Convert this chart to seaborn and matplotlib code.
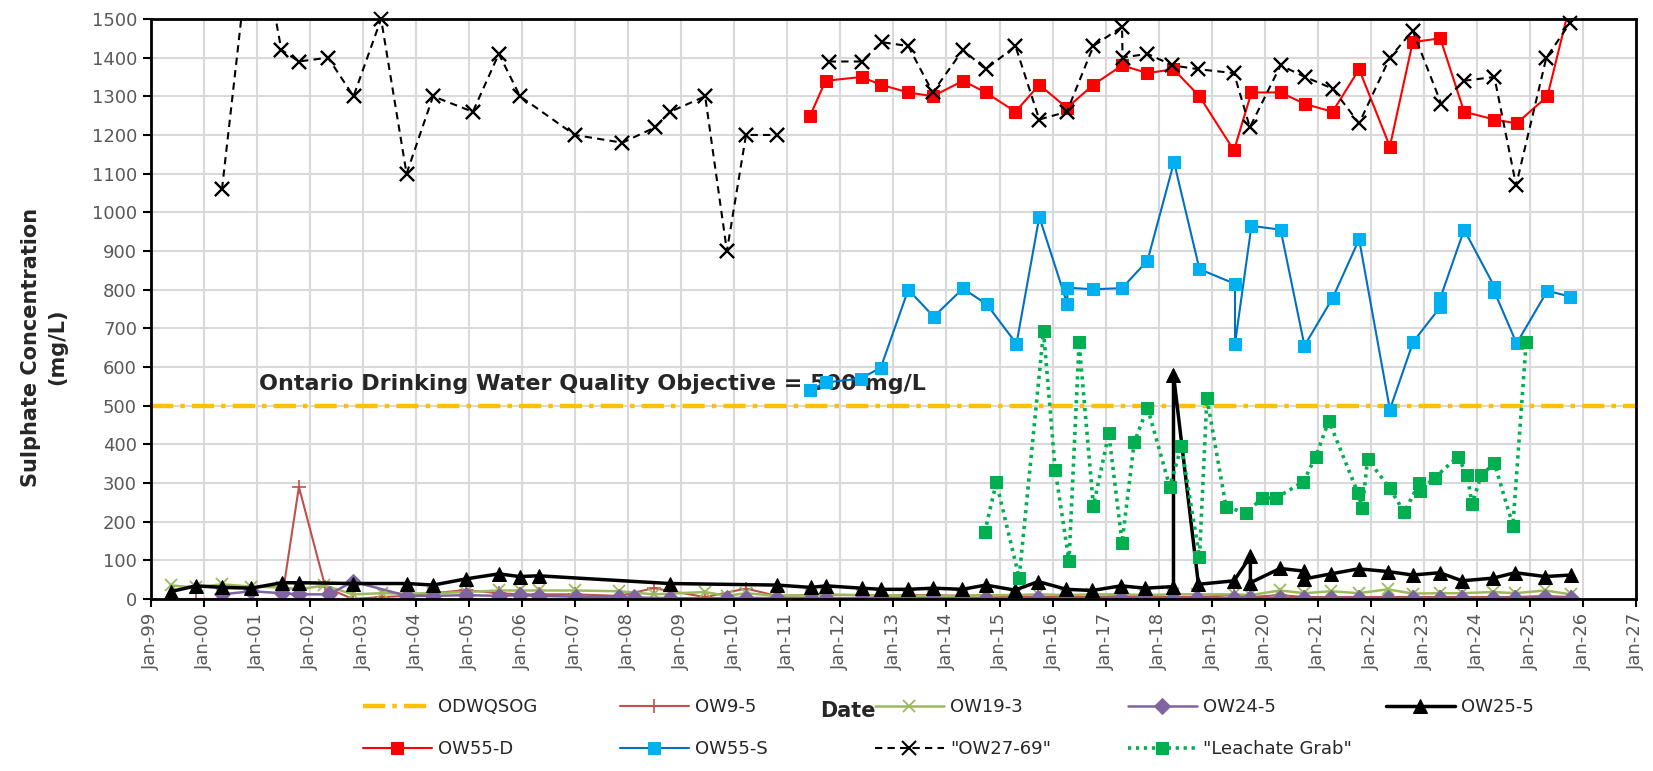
import numpy as np
import pandas as pd
import matplotlib
matplotlib.use("Agg")
import matplotlib.pyplot as plt
import seaborn as sns

# sampling dates as decimal years
years = list(range(1999, 2028))
tick_labels = ["Jan-%02d" % (y % 100) for y in years]

odwqs_x = [1999, 2027]
odwqs_y = [500, 500]

ow9_x = [1999.37, 1999.85, 2000.34, 2000.89, 2001.47, 2001.79, 2002.29, 2002.81, 2003.35, 2003.83,
         2004.32, 2004.94, 2005.56, 2005.95, 2006.31, 2006.99, 2007.83, 2008.48, 2009.45, 2010.22,
         2010.80, 2011.45, 2011.73, 2012.40, 2012.77, 2013.28, 2013.75, 2014.30, 2014.74, 2015.29,
         2015.73, 2016.26, 2016.75, 2017.29, 2017.74, 2018.28, 2018.72, 2019.43, 2019.73, 2020.29,
         2020.75, 2021.25, 2021.77, 2022.32, 2022.79, 2023.30, 2023.72, 2024.31, 2024.72, 2025.29,
         2025.77]
ow9_y = [0, 0, 0, 0, 0, 290, 30, 0, 5, 8,
         15, 23, 15, 12, 12, 12, 8, 28, 5, 27,
         8, 10, 10, 10, 8, 10, 10, 8, 10, 6,
         5, 5, 5, 8, 5, 5, 5, 10, 5, 10,
         5, 5, 5, 5, 5, 5, 5, 5, 5, 8,
         5]

ow19_x = [1999.37, 1999.85, 2000.34, 2000.89, 2001.47, 2001.79, 2002.27, 2002.81, 2003.35, 2003.83,
          2004.32, 2004.94, 2005.56, 2005.95, 2006.31, 2006.99, 2007.83, 2008.48, 2009.45, 2009.86,
          2010.22, 2010.80, 2011.45, 2011.73, 2012.40, 2012.77, 2013.28, 2013.75, 2014.30, 2014.74,
          2015.29, 2015.73, 2016.26, 2016.75, 2017.29, 2017.74, 2018.28, 2018.72, 2019.43, 2019.73,
          2020.29, 2020.75, 2021.25, 2021.77, 2022.32, 2022.79, 2023.30, 2023.72, 2024.31, 2024.72,
          2025.29, 2025.77]
ow19_y = [35, 30, 38, 32, 30, 25, 35, 12, 15, 14,
          15, 18, 22, 22, 22, 22, 20, 12, 18, 8,
          15, 8, 10, 12, 10, 10, 8, 8, 8, 10,
          10, 12, 10, 12, 12, 10, 12, 12, 12, 10,
          22, 15, 20, 15, 25, 14, 15, 15, 18, 15,
          22, 12]

ow24_x = [2000.34, 2000.89, 2001.47, 2001.79, 2002.36, 2002.81, 2003.83, 2004.32, 2004.95, 2005.56,
          2005.95, 2006.31, 2007.01, 2007.83, 2008.11, 2008.78, 2009.86, 2010.22, 2010.81, 2011.45,
          2011.73, 2012.40, 2012.77, 2013.28, 2013.75, 2014.30, 2014.74, 2015.29, 2015.73, 2016.26,
          2016.75, 2017.29, 2017.74, 2018.28, 2018.72, 2019.43, 2019.73, 2020.29, 2020.75, 2021.25,
          2021.77, 2022.32, 2022.79, 2023.30, 2023.72, 2024.31, 2024.72, 2025.29, 2025.77]
ow24_y = [12, 20, 15, 12, 12, 45, 8, 8, 10, 8,
          10, 8, 6, 5, 4, 2, 2, 3, 2, 2,
          2, 2, 2, 2, 2, 2, 2, 2, 2, 2,
          2, 3, 2, 2, 2, 2, 2, 2, 2, 3,
          2, 2, 2, 2, 2, 2, 2, 5, 2]

ow25_x = [1999.37, 1999.85, 2000.34, 2000.89, 2001.47, 2001.79, 2002.81, 2003.83, 2004.32, 2004.94,
          2005.56, 2005.95, 2006.31, 2008.78, 2010.80, 2011.44, 2011.73, 2012.40, 2012.77, 2013.28,
          2013.75, 2014.30, 2014.74, 2015.29, 2015.73, 2016.26, 2016.75, 2017.29, 2017.74, 2018.28,
          2018.28, 2018.75, 2019.42, 2019.73, 2019.73, 2020.29, 2020.75, 2020.75, 2021.25, 2021.77,
          2022.32, 2022.79, 2023.30, 2023.72, 2024.31, 2024.72, 2025.29, 2025.77]
ow25_y = [19, 34, 30, 28, 42, 42, 40, 40, 36, 52,
          65, 58, 60, 40, 36, 30, 34, 28, 25, 25,
          28, 25, 36, 23, 45, 25, 22, 34, 28, 32,
          580, 38, 47, 110, 42, 79, 72, 52, 65, 78,
          71, 62, 68, 47, 54, 68, 58, 62]

ow55d_x = [2011.43, 2011.72, 2012.40, 2012.76, 2013.28, 2013.74, 2014.31, 2014.74, 2015.30, 2015.75,
           2016.27, 2016.77, 2017.31, 2017.79, 2018.28, 2018.77, 2019.42, 2019.75, 2020.30, 2020.76,
           2021.28, 2021.78, 2022.36, 2022.79, 2023.31, 2023.76, 2024.33, 2024.75, 2025.33, 2025.76]
ow55d_y = [1250, 1340, 1350, 1330, 1310, 1300, 1340, 1310, 1260, 1330,
           1270, 1330, 1380, 1360, 1370, 1300, 1160, 1310, 1310, 1280,
           1260, 1370, 1170, 1440, 1450, 1260, 1240, 1230, 1300, 1540]

ow55s_x = [2011.43, 2011.72, 2012.38, 2012.76, 2013.28, 2013.76, 2014.31, 2014.76, 2015.32, 2015.75,
           2016.28, 2016.28, 2016.77, 2017.31, 2017.79, 2018.29, 2018.77, 2019.44, 2019.44, 2019.75,
           2020.30, 2020.75, 2021.28, 2021.78, 2022.36, 2022.80, 2023.31, 2023.31, 2023.76, 2024.33,
           2024.33, 2024.75, 2025.33, 2025.76]
ow55s_y = [540, 560, 570, 598, 800, 730, 803, 762, 660, 988,
           762, 805, 801, 804, 875, 1130, 853, 815, 660, 965,
           955, 655, 778, 930, 490, 665, 755, 778, 955, 808,
           795, 661, 797, 782]

# nan marks a sampling round with no result (gap in the line)
ow27_x = [2000.34, 2000.95, 2001.46, 2001.79, 2002.34, 2002.82, 2003.34, 2003.82, 2004.32, 2005.07,
          2005.56, 2005.96, 2006.99, 2007.89, 2008.51, 2008.79, 2009.45, 2009.86, 2010.22, 2010.80,
          2011.45, 2011.78, 2012.40, 2012.78, 2013.28, 2013.74, 2014.31, 2014.74, 2015.30, 2015.75,
          2016.27, 2016.77, 2017.31, 2017.32, 2017.79, 2018.26, 2018.75, 2019.42, 2019.72, 2020.30,
          2020.76, 2021.28, 2021.78, 2022.36, 2022.79, 2023.33, 2023.75, 2024.33, 2024.74, 2025.31,
          2025.76]
ow27_y = [1060, 1800, 1420, 1390, 1400, 1300, 1500, 1100, 1300, 1260,
          1410, 1300, 1200, 1180, 1220, 1260, 1300, 900, 1200, 1200,
          np.nan, 1390, 1390, 1440, 1430, 1310, 1420, 1370, 1430, 1240,
          1260, 1430, 1480, 1400, 1410, 1380, 1370, 1360, 1220, 1380,
          1350, 1320, 1230, 1400, 1470, 1280, 1340, 1350, 1070, 1400,
          1490]

leach_x = [2014.72, 2014.94, 2015.37, 2015.83, 2016.05, 2016.31, 2016.50, 2016.77, 2017.06, 2017.31,
           2017.54, 2017.79, 2018.21, 2018.43, 2018.77, 2018.91, 2019.27, 2019.64, 2019.95, 2020.22,
           2020.73, 2020.96, 2021.21, 2021.76, 2021.84, 2021.94, 2022.36, 2022.63, 2022.91, 2022.92,
           2023.21, 2023.64, 2023.82, 2023.91, 2024.08, 2024.33, 2024.68, 2024.93]
leach_y = [172, 302, 55, 692, 334, 98, 664, 240, 428, 146,
           405, 495, 290, 396, 108, 520, 239, 222, 260, 262,
           303, 368, 461, 273, 235, 362, 286, 224, 299, 280,
           314, 368, 320, 245, 320, 351, 190, 665]

sns.set_theme(style="whitegrid")
plt.rcParams["font.family"] = ["DejaVu Sans"]

fig, ax = plt.subplots(figsize=(16.53, 7.71), dpi=100)
fig.subplots_adjust(left=0.0913, right=0.9897, top=0.9754, bottom=0.2231)

sns.lineplot(x=odwqs_x, y=odwqs_y, ax=ax, color="#FFC000", lw=3.2,
             linestyle=(0, (5, 1.6, 1, 1.6)), label="ODWQSOG", legend=False)
sns.lineplot(x=ow9_x, y=ow9_y, ax=ax, color="#C0504D", lw=1.5, marker="+", markersize=10,
             markeredgecolor="#C0504D", markeredgewidth=1.2, estimator=None, sort=False,
             label="OW9-5", legend=False)
sns.lineplot(x=ow19_x, y=ow19_y, ax=ax, color="#9BBB59", lw=1.8, marker="x", markersize=8,
             markeredgecolor="#9BBB59", markeredgewidth=1.3, estimator=None, sort=False,
             label="OW19-3", legend=False)
sns.lineplot(x=ow24_x, y=ow24_y, ax=ax, color="#8064A2", lw=1.8, marker="D", markersize=8,
             markeredgecolor="#8064A2", markerfacecolor="#8064A2", estimator=None, sort=False,
             label="OW24-5", legend=False)
sns.lineplot(x=ow25_x, y=ow25_y, ax=ax, color="black", lw=2.5, marker="^", markersize=10,
             markeredgecolor="black", markerfacecolor="black", estimator=None, sort=False,
             label="OW25-5", legend=False)
sns.lineplot(x=ow55d_x, y=ow55d_y, ax=ax, color="#FF0000", lw=1.5, marker="s", markersize=8,
             markeredgecolor="#FF0000", markerfacecolor="#FF0000", estimator=None, sort=False,
             label="OW55-D", legend=False)
sns.lineplot(x=ow55s_x, y=ow55s_y, ax=ax, color="#0070C0", lw=1.5, marker="s", markersize=9,
             markeredgecolor="#00B0F0", markerfacecolor="#00B0F0", estimator=None, sort=False,
             label="OW55-S", legend=False)

df27 = pd.DataFrame({"x": ow27_x, "y": ow27_y})
df27["seg"] = df27["y"].isna().cumsum()
df27 = df27.dropna()
sns.lineplot(data=df27, x="x", y="y", units="seg", ax=ax, color="black", lw=1.5,
             linestyle=(0, (3.5, 2.5)), marker="x", markersize=10, markeredgecolor="black",
             markeredgewidth=1.5, estimator=None, sort=False, label='"OW27-69"', legend=False)
# markers sitting on the top edge are drawn whole, as in the original
top_pts = df27[df27["y"] <= 1500]
sns.lineplot(data=top_pts, x="x", y="y", units="seg", ax=ax, linestyle="", marker="x",
             markersize=10, markeredgecolor="black", markeredgewidth=1.5, estimator=None,
             sort=False, clip_on=False, legend=False)

sns.lineplot(x=leach_x, y=leach_y, ax=ax, color="#00B050", lw=2.6, linestyle=(0, (0.9, 1.3)),
             marker="s", markersize=9, markeredgecolor="#00B050", markerfacecolor="#00B050",
             estimator=None, sort=False, label='"Leachate Grab"', legend=False)

ax.set_xlim(1999, 2027)
ax.set_ylim(0, 1500)
ax.set_xticks(years)
ax.set_xticklabels(tick_labels, rotation=90)
ax.set_yticks(range(0, 1501, 100))
ax.set_xlabel("")
ax.set_ylabel("")
ax.grid(True, color="#D9D9D9", lw=1.5)
ax.set_axisbelow(True)
for s in ax.spines.values():
    s.set_color("black")
    s.set_linewidth(2)
ax.tick_params(axis="both", direction="out", length=6, width=1.5, color="black",
               labelsize=13, labelcolor="#595959", bottom=True, left=True, pad=4)

ax.text(2001.04, 540, "Ontario Drinking Water Quality Objective = 500 mg/L",
        fontweight="bold", fontsize=16, ha="left", va="baseline", zorder=1.8)

fig.text(44.5 / 1653, 1 - 347 / 771, "Sulphate Concentration\n(mg/L)", rotation=90,
         ha="center", va="center", fontsize=15, fontweight="bold", linespacing=1.4)
fig.text(848 / 1653, 1 - 711 / 771, "Date", ha="center", va="center", fontsize=15,
         fontweight="bold")

# legend: two rows, five slots, each entry placed on its own
handles, labels = ax.get_legend_handles_labels()
seen = {}
for h, l in zip(handles, labels):
    if l not in seen:
        seen[l] = h
order = ["ODWQSOG", "OW9-5", "OW19-3", "OW24-5", "OW25-5",
         "OW55-D", "OW55-S", '"OW27-69"', '"Leachate Grab"']
slot_x = [363, 620, 875, 1128, 1386]
slot_y = [707, 749]
for i, name in enumerate(order):
    px = slot_x[i % 5]
    py = slot_y[i // 5]
    fig.legend(handles=[seen[name]], labels=[name], loc="center left",
               bbox_to_anchor=(px / 1653, 1 - py / 771), frameon=False, borderpad=0,
               borderaxespad=0, handlelength=3.8, handletextpad=0.35, fontsize=13,
               numpoints=1)

fig.savefig("out.png", dpi=100)
